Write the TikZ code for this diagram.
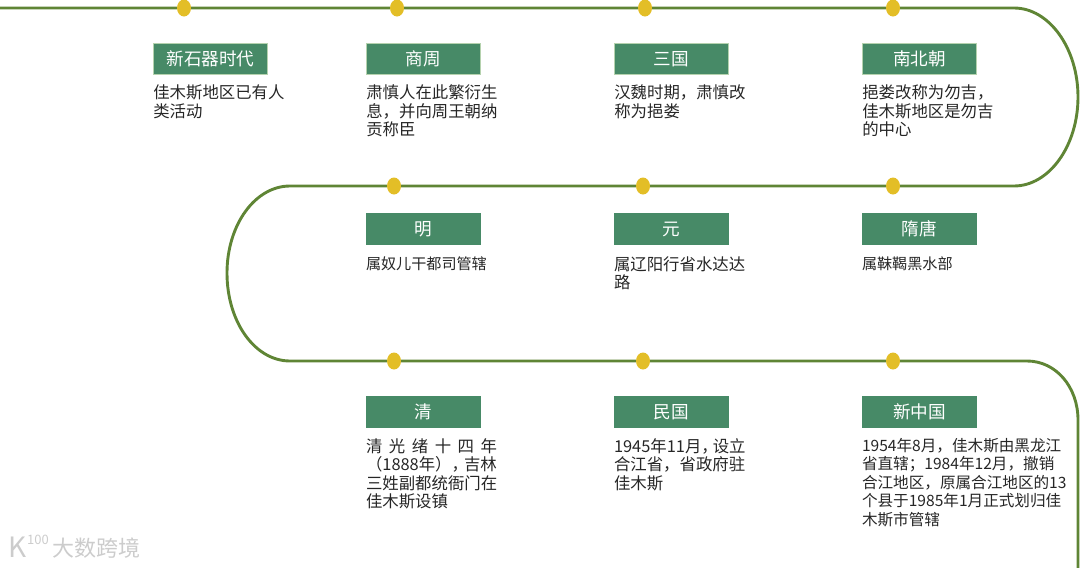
\documentclass[tikz,border=0pt]{standalone}
\usepackage{fontspec}
\setmainfont{Noto Sans CJK SC}
\usepackage{xcolor}
\usetikzlibrary{arrows.meta, shapes.geometric, positioning, calc}
\definecolor{trackgreen}{HTML}{5F8535}
\definecolor{dotyellow}{HTML}{E3BE27}
\definecolor{erafill}{HTML}{478A67}
\definecolor{eraline}{HTML}{B5D2AE}
\definecolor{notetext}{HTML}{262626}
\XeTeXlinebreaklocale "zh"

\begin{document}
\begin{tikzpicture}[
		x=1pt, y=-1pt,
		every node/.style={font=\fontsize{16.4}{18.4}\selectfont},
		era/.style={fill=erafill, text=white, minimum width=115pt, minimum height=32pt, inner sep=0pt, font=\fontsize{17.6}{18.4}\selectfont},
		toprow/.style={era, draw=eraline, line width=0.8pt, minimum width=114pt, minimum height=31pt},
		note/.style={text=notetext, align=left, inner sep=0pt, anchor=north west},
		small note/.style={note, font=\fontsize{15.1}{18.4}\selectfont},
		dot/.style={draw=none, fill=dotyellow, ellipse, minimum width=14pt, minimum height=17pt, inner sep=0pt},
		track/.style={draw=trackgreen, line width=2.9pt},
		mark text/.style={text=black!20, inner sep=0pt}
		]
		\useasboundingbox (0,0) rectangle (1080,568);
		
		% Dots on the line
		\node[dot] (xinshiqidot) at (184,8) {};
		\node[dot] (shangzhoudot) at (397,8) {};
		\node[dot] (sanguodot) at (645,8) {};
		\node[dot] (nanbeidot) at (893,8) {};
		\node[dot] (suitangdot) at (893,186) {};
		\node[dot] (yuandot) at (643,186) {};
		\node[dot] (mingdot) at (394,186) {};
		\node[dot] (qingdot) at (394,361) {};
		\node[dot] (minguodot) at (643,361) {};
		\node[dot] (xinzhongdot) at (893,361) {};
		
		% Free ends and turns
		\coordinate (linestart) at (0,8);
		\coordinate (turnA) at (1014,8);
		\coordinate (turnB) at (1014,186);
		\coordinate (turnC) at (290,186);
		\coordinate (turnD) at (290,361);
		\coordinate (turnE) at (1027,361);
		\coordinate (lineend) at (1078,568);
		
		% The line
		\draw[track] (linestart) -- (xinshiqidot) -- (shangzhoudot) -- (sanguodot) -- (nanbeidot) -- (turnA)
		.. controls (1049,8) and (1078,48) .. (1078,97)
		.. controls (1078,146) and (1049,186) .. (turnB) -- (suitangdot) -- (yuandot) -- (mingdot) -- (turnC)
		.. controls (255,186) and (227,225) .. (227,273)
		.. controls (227,322) and (255,361) .. (turnD) -- (qingdot) -- (minguodot) -- (xinzhongdot) -- (turnE)
		.. controls (1056,361) and (1078,387) .. (1078,420) -- (lineend);
		
		% First row
		\node[toprow] (xinshiqi) at (210.5,59) {新石器时代};
		\node[note, below=10pt of xinshiqi.south west, anchor=north west] (xinshiqinote) {佳木斯地区已有人\\类活动};
		\node[toprow] (shangzhou) at (423.5,59) {商周};
		\node[note, below=10pt of shangzhou.south west, anchor=north west] (shangzhounote) {肃慎人在此繁衍生\\息，并向周王朝纳\\贡称臣};
		\node[toprow] (sanguo) at (671.5,59) {三国};
		\node[note, below=10pt of sanguo.south west, anchor=north west] (sanguonote) {汉魏时期，肃慎改\\称为挹娄};
		\node[toprow] (nanbei) at (919.5,59) {南北朝};
		\node[note, below=10pt of nanbei.south west, anchor=north west] (nanbeinote) {挹娄改称为勿吉，\\佳木斯地区是勿吉\\的中心};
		
		% Second row
		\node[era] (ming) at (423.5,229) {明};
		\node[small note, below=11pt of ming.south west, anchor=north west] (mingnote) {属奴儿干都司管辖};
		\node[era] (yuan) at (671.5,229) {元};
		\node[note, below=11pt of yuan.south west, anchor=north west] (yuannote) {属辽阳行省水达达\\路};
		\node[era] (suitang) at (919.5,229) {隋唐};
		\node[small note, below=11pt of suitang.south west, anchor=north west] (suitangnote) {属靺鞨黑水部};
		
		% Third row
		\node[era] (qing) at (423.5,412) {清};
		\node[note, below=10pt of qing.south west, anchor=north west] (qingnote) {\makebox[131pt][s]{清\hfill 光\hfill 绪\hfill 十\hfill 四\hfill 年}\\（1888年），\hspace{-4pt}吉林\\三姓副都统衙门在\\佳木斯设镇};
		\node[era] (minguo) at (671.5,412) {民国};
		\node[note, below=10pt of minguo.south west, anchor=north west] (minguonote) {1945年11月，\hspace{-5pt}设立\\合江省，省政府驻\\佳木斯};
		\node[era] (xinzhong) at (919.5,412) {新中国};
		\node[note, font=\fontsize{15.6}{18.4}\selectfont, below=10pt of xinzhong.south west, anchor=north west] (xinzhongnote) {1954年8月，佳木斯由黑龙江\\省直辖；1984年12月，撤销\\合江地区，原属合江地区的13\\个县于1985年1月正式划归佳\\木斯市管辖};
		
		% Watermark
		\node[mark text, font=\fontsize{28}{28}\selectfont, anchor=west] (marklogo) at (8,547) {K};
		\node[mark text, font=\fontsize{13}{13}\selectfont, anchor=west] (markhundred) at (27,540) {100};
		\node[mark text, font=\fontsize{22}{22}\selectfont, anchor=west] (markname) at (52,548) {大数跨境};
		
	\end{tikzpicture}
\end{document}
